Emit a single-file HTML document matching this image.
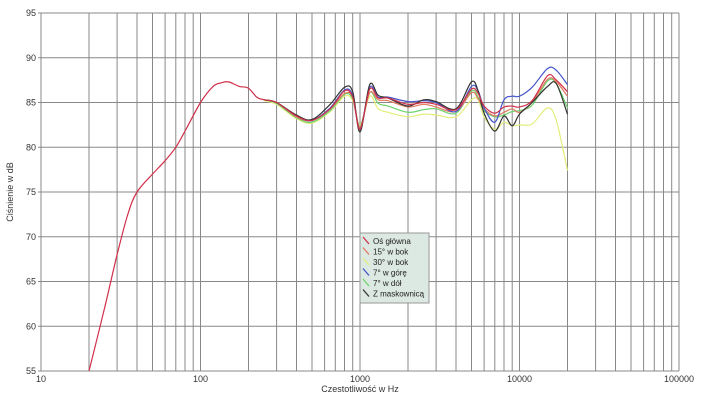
<!DOCTYPE html>
<html><head><meta charset="utf-8"><style>
body{margin:0;background:#fff;width:708px;height:405px;overflow:hidden}
svg{display:block;font-family:"Liberation Sans",sans-serif}
</style></head><body>
<svg id="s" width="708" height="405" viewBox="0 0 708 405"></svg>
<script>
const s=document.getElementById('s');
const L=41,R=679,T=13,B=371,D=(R-L)/4;
const X=f=>L+D*Math.log10(f/10), Y=d=>T+(95-d)*(B-T)/40;
let h='';
for(let e=1;e<5;e++)for(let m=1;m<10;m++){const f=Math.pow(10,e)*m;if(f>100000)break;const x=X(f).toFixed(1);h+=`<line x1="${x}" y1="${T}" x2="${x}" y2="${B}" stroke="#888" stroke-width="1"/>`;}
h+=`<line x1="${R}" y1="${T}" x2="${R}" y2="${B}" stroke="#888"/>`;
for(let d=55;d<=95;d+=5){const y=Y(d).toFixed(1);h+=`<line x1="${L-3}" y1="${y}" x2="${R}" y2="${y}" stroke="#888"/><text x="${L-5}" y="${+y+3}" font-size="9" text-anchor="end" fill="#333">${d}</text>`;}
[[10,'10'],[100,'100'],[1000,'1000'],[10000,'10000'],[100000,'100000']].forEach(([f,t])=>h+=`<text x="${X(f)}" y="${B+11}" font-size="9" text-anchor="middle" fill="#333">${t}</text>`);
h+=`<text x="${(L+R)/2}" y="${B+21}" font-size="9" text-anchor="middle" fill="#333">Czestotliwość w Hz</text>`;
h+=`<text transform="translate(13,${(T+B)/2}) rotate(-90)" font-size="9" text-anchor="middle" fill="#333">Ciśnienie w dB</text>`;
function path(pts,c,w){let p=pts.map(([f,d])=>[X(f),Y(d)]);let str=`M${p[0][0]},${p[0][1]}`;
for(let i=0;i<p.length-1;i++){const a=p[i-1]||p[i],b=p[i],c2=p[i+1],d=p[i+2]||c2;
str+=` C${(b[0]+(c2[0]-a[0])/6).toFixed(1)},${(b[1]+(c2[1]-a[1])/6).toFixed(1)} ${(c2[0]-(d[0]-b[0])/6).toFixed(1)},${(c2[1]-(d[1]-b[1])/6).toFixed(1)} ${c2[0].toFixed(1)},${c2[1].toFixed(1)}`;}
return `<path d="${str}" fill="none" stroke="${c}" stroke-width="${w||1.2}"/>`;}
const base=[[250,85.3],[300,85],[400,83.5],[500,83],[650,84.3],[800,86.3],[900,85.6],[1000,82],[1150,86.5],[1300,85.5],[1500,85.5],[2000,84.8],[2500,85],[3000,84.8],[4000,84.2],[5000,86.5],[5500,86],[6000,84.6],[7000,83.8],[8000,84.5],[9000,84.6],[10000,84.5],[12000,85.2],[15000,88],[17000,87.5],[20000,86.2]];
const red=[[20,55],[25,62],[30,68],[35,72.5],[40,75],[50,77],[60,78.5],[70,80],[80,81.8],[100,85],[120,86.8],[135,87.2],[150,87.3],[175,86.8],[200,86.6],[225,85.6]].concat(base);
function vary(m){return base.map(([f,d],i)=>[f,d+(m[i]||0)]);}
const z=n=>Array(26).fill(0).map((_,i)=>n[i]||0);
const orange=vary(z([0,0,-.1,0,0,-.3,0,.2,-.4,-.2,-.3,-.3,-.2,-.3,-.2,-.4,-.6,-.3,-.3,-.6,-.3,-.6,-.2,-.4,-.2,-.5]));
const yellow=vary(z([-.1,-.2,-.3,-.3,-.3,-.6,-.4,.5,-.8,-1.2,-1.6,-1.4,-1.3,-1.2,-.8,-1.2,-.7,-1.2,-1.8,-1.7,-2.2,-2,-2.6,-3.6,-4.5,-8.8]));
const blue=vary(z([0,0,0,0,.1,.1,.2,0,.2,.1,.1,.3,.2,.2,-.2,.3,.3,-.2,-1,.8,1.1,1.2,1.5,.8,1.1,.8]));
const green=vary(z([0,-.1,-.2,-.2,-.2,-.4,-.2,.3,-.4,-.6,-.9,-.9,-.8,-.5,-.4,-.2,-.4,-.5,-.4,-.9,-.6,-.4,-.5,-.6,-.4,-1.8]));
const black=vary(z([0,0,.1,.1,.5,.4,.6,-.3,.5,.3,0,-.2,.3,.3,.1,.8,.3,-.8,-2,-1,-2.2,-.8,-.2,-1.2,-.4,-2.5]));
h+=path(yellow,'#e3ee7a')+path(green,'#6fd36f')+path(orange,'#e07a60')+path(blue,'#4455cc')+path(black,'#333')+path(red,'#d0304a');
h+=`<rect x="360" y="233" width="69" height="70" fill="#dce8e2" stroke="#999"/>`;
[['Oś główna','#d0304a'],['15° w bok','#e07a60'],['30° w bok','#e3ee7a'],['7° w górę','#4455cc'],['7° w dół','#6fd36f'],['Z maskownicą','#333']].forEach(([t,c],i)=>{const y=241+i*10.5;
h+=`<line x1="363" y1="${y-4}" x2="369" y2="${y+3}" stroke="${c}" stroke-width="1.3"/><text x="373" y="${y+3}" font-size="8" fill="#222">${t}</text>`;});
s.innerHTML=h;
</script>
</body></html>
